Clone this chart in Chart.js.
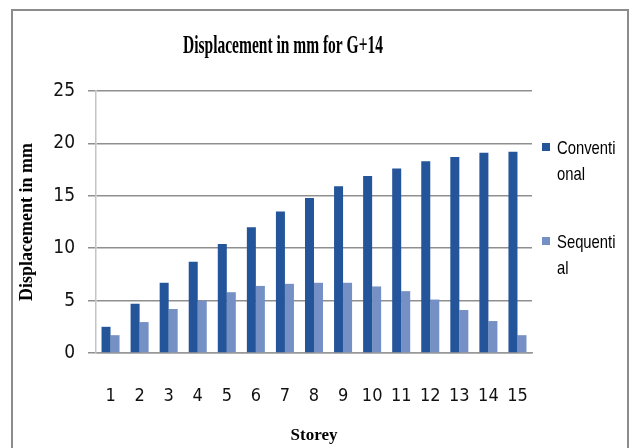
<!DOCTYPE html>
<html>
<head>
<meta charset="utf-8">
<script src="https://cdn.jsdelivr.net/npm/chart.js@4.4.1/dist/chart.umd.min.js"></script>
<style>
  html, body { margin: 0; padding: 0; background: #fff; }
  canvas { display: block; }
</style>
</head>
<body>
<canvas id="chart" width="629" height="448"></canvas>
<script>
var storeys = ['1', '2', '3', '4', '5', '6', '7', '8', '9', '10', '11', '12', '13', '14', '15'];
var conventional = [2.5, 4.7, 6.7, 8.7, 10.4, 12.0, 13.5, 14.8, 15.9, 16.9, 17.6, 18.3, 18.7, 19.1, 19.2];
var sequential = [1.7, 2.95, 4.2, 5.0, 5.8, 6.4, 6.6, 6.7, 6.7, 6.35, 5.9, 5.1, 4.1, 3.05, 1.7];
var yTicks = [0, 5, 10, 15, 20, 25];

var narrow = '"DejaVu Sans Condensed", "Liberation Sans", sans-serif';
var serif = '"Liberation Serif", "DejaVu Serif", serif';

// frame, title and the wrapped legend on the right
var decor = {
    id: 'decor',
    beforeDraw: function (chart) {
        var c = chart.ctx;
        c.save();
        c.strokeStyle = '#8c8c8c';
        c.lineWidth = 2;
        c.strokeRect(12, 10, 616, 440);
        c.restore();
    },
    afterDraw: function (chart) {
        var c = chart.ctx;
        c.save();
        c.fillStyle = '#000';
        c.font = 'bold 25px ' + serif;
        c.textAlign = 'center';
        c.textBaseline = 'alphabetic';
        c.translate(283, 53);
        c.scale(0.62, 1);
        c.fillText('Displacement in mm for G+14', 0, 0);
        c.restore();

        var rows = [147, 241];
        c.save();
        c.font = '19px "Liberation Sans", sans-serif';
        c.textBaseline = 'alphabetic';
        chart.data.datasets.forEach(function (ds, i) {
            var cy = rows[i];
            c.fillStyle = ds.backgroundColor;
            c.fillRect(542, cy - 4, 8, 8);
            c.fillStyle = '#000';
            c.save();
            c.translate(557, cy + 7);
            c.scale(0.78, 1);
            c.fillText(ds.label.slice(0, 8), 0, 0);
            c.fillText(ds.label.slice(8), 0, 26);
            c.restore();
        });
        c.restore();
    }
};

var ctx = document.getElementById('chart').getContext('2d');
var chart = new Chart(ctx, {
    type: 'bar',
    data: {
        labels: storeys,
        datasets: [
            { label: 'Conventional', data: conventional, backgroundColor: '#24549a' },
            { label: 'Sequential', data: sequential, backgroundColor: '#7590c4' }
        ]
    },
    options: {
        responsive: false,
        animation: false,
        events: [],
        layout: { padding: { left: 13, right: 97, top: 91, bottom: 0 } },
        categoryPercentage: 0.62,
        barPercentage: 1.0,
        plugins: {
            legend: { display: false },
            title: { display: false },
            tooltip: { enabled: false }
        },
        scales: {
            x: {
                grid: { display: false, drawTicks: false },
                border: { color: '#999', width: 1.5 },
                ticks: {
                    color: '#111', padding: 33, autoSkip: false, maxRotation: 0, minRotation: 0,
                    font: { family: narrow, size: 18 }
                },
                title: {
                    display: true,
                    text: 'Storey',
                    color: '#000',
                    font: { family: serif, size: 17, weight: 'bold' },
                    padding: { top: 0, bottom: 2 }
                },
                afterFit: function (scale) { scale.height = 95; }
            },
            y: {
                min: 0,
                max: 25,
                afterBuildTicks: function (scale) {
                    scale.ticks = yTicks.map(function (v) { return { value: v }; });
                },
                grid: { color: '#8f8f8f', lineWidth: 1.5, tickLength: 8 },
                border: { color: '#c4c4c4', width: 1.5 },
                ticks: { color: '#111', padding: 13, font: { family: narrow, size: 19 } },
                title: {
                    display: true,
                    text: 'Displacement in mm',
                    color: '#000',
                    font: { family: serif, size: 18, weight: 'bold' },
                    padding: { top: 4, bottom: 0 }
                },
                afterFit: function (scale) { scale.width = 83; }
            }
        }
    },
    plugins: [decor]
});
</script>
</body>
</html>
